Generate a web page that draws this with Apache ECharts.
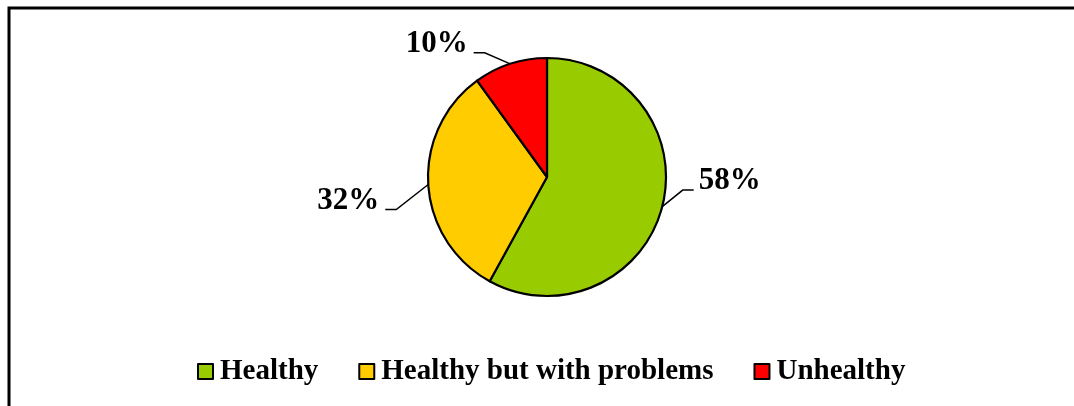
<!DOCTYPE html>
<html>
<head>
<meta charset="utf-8">
<script src="https://cdn.jsdelivr.net/npm/echarts@6/dist/echarts.min.js"></script>
<style>html,body{margin:0;padding:0;background:#fff;}#c{width:1074px;height:406px;}</style>
</head>
<body>
<div id="c"></div>
<script>
const categories = ['Healthy', 'Healthy but with problems', 'Unhealthy'];
const values = [58, 32, 10];
const colors = ['#99CC00', '#FFCC00', '#FF0000'];

const FONT = '"Liberation Serif", "Times New Roman", serif';
const labelShiftX = [0, -12, -18];
const labelShiftY = [-30, 15, -3];
const chart = echarts.init(document.getElementById('c'), null, {renderer: 'canvas'});
chart.setOption({
  animation: false,
  backgroundColor: '#fff',
  graphic: [{
    type: 'polyline',
    shape: {points: [[9, 406], [9, 8], [1074, 8]]},
    style: {stroke: '#000', lineWidth: 3, fill: null}
  }],
  legend: {
    data: categories,
    left: 192,
    top: 352,
    icon: 'rect',
    itemWidth: 15,
    itemHeight: 15,
    itemGap: 40,
    itemStyle: {borderColor: '#000', borderWidth: 2},
    textStyle: {fontFamily: FONT, fontWeight: 'bold', fontSize: 29, color: '#000', padding: [0, 0, 0, 2]}
  },
  series: [{
    type: 'pie',
    center: [547, 177],
    radius: 119,
    startAngle: 90,
    clockwise: true,
    label: {
      show: true,
      formatter: '{d}%',
      fontFamily: FONT, fontWeight: 'bold', fontSize: 31, color: '#000'
    },
    labelLine: {show: true, length: 18, length2: 14, lineStyle: {color: '#000', width: 1.5}},
    labelLayout: function (p) {
      const i = p.dataIndex;
      const dx = labelShiftX[i], dy = labelShiftY[i];
      const r = p.labelRect;
      const x0 = r.x + dx, y0 = r.y + dy;
      const ly = y0 + r.height / 2 + 9;
      const start = p.labelLinePoints ? p.labelLinePoints[0] : null;
      const res = {dx: dx, dy: dy};
      if (start) {
        const rightSide = start[0] > 547;
        let end, elbow;
        if (rightSide) {
          end = [x0 - 5, ly];
          elbow = [x0 - 16, ly];
        } else {
          end = [x0 + r.width + 6, ly];
          elbow = [x0 + r.width + 17, ly];
        }
        res.labelLinePoints = [start, elbow, end];
      }
      return res;
    },
    itemStyle: {borderColor: '#000', borderWidth: 2.2},
    data: categories.map((n, i) => ({name: n, value: values[i], itemStyle: {color: colors[i]}}))
  }]
});
</script>
</body>
</html>
